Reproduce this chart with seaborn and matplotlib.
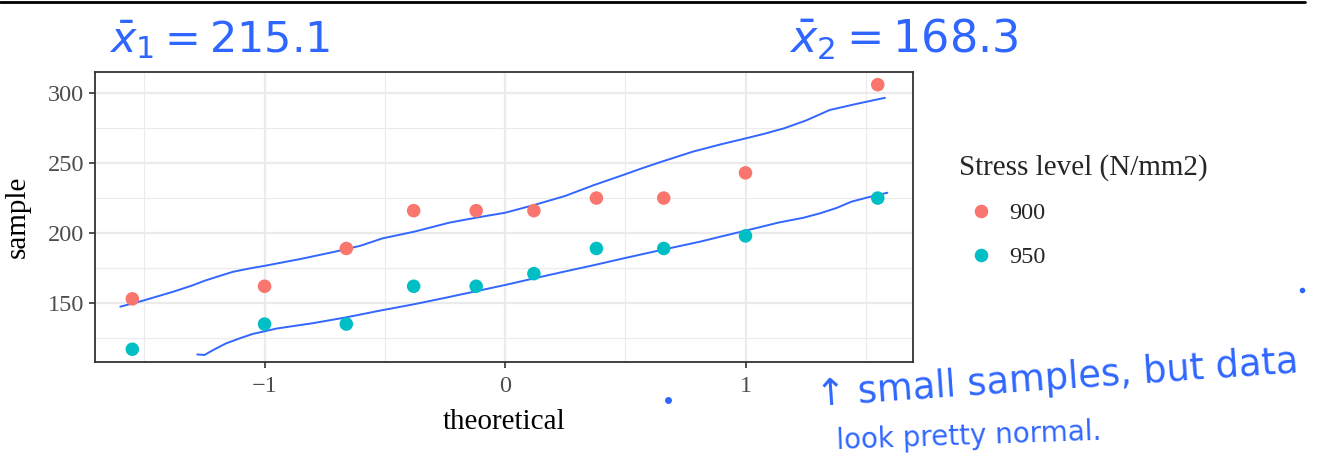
import numpy as np
import pandas as pd
import seaborn as sns
import matplotlib.pyplot as plt
from matplotlib.lines import Line2D
from matplotlib.ticker import MultipleLocator

# theoretical normal quantiles for n = 10
theoretical = [-1.55, -1.00, -0.66, -0.38, -0.12, 0.12, 0.38, 0.66, 1.00, 1.55]
sample_900 = [153, 162, 189, 216, 216, 216, 225, 225, 243, 306]
sample_950 = [117, 135, 135, 162, 162, 171, 189, 189, 198, 225]
levels = ["900", "950"]

# smoothed reference curves (traced)
curve_900_x = [-1.60, -1.50, -1.38, -1.30, -1.25, -1.19, -1.13, -1.06, -1.00, -0.85, -0.71,
               -0.60, -0.51, -0.38, -0.23, -0.10, 0.00, 0.12, 0.25, 0.37, 0.49, 0.57,
               0.65, 0.78, 0.90, 1.00, 1.08, 1.16, 1.25, 1.35, 1.47, 1.58]
curve_900_y = [147.4, 152.0, 158.1, 162.6, 165.9, 169.2, 172.4, 174.8, 176.6, 181.5, 186.6,
               191.0, 196.2, 200.9, 207.5, 211.6, 214.5, 220.0, 226.5, 234.3, 241.4, 246.3,
               250.9, 258.1, 263.5, 267.6, 271.0, 274.8, 280.3, 287.9, 292.6, 296.6]
curve_950_x = [-1.28, -1.25, -1.21, -1.16, -1.10, -1.05, -0.95, -0.80, -0.66, -0.52, -0.38,
               -0.25, -0.13, 0.00, 0.12, 0.25, 0.37, 0.51, 0.65, 0.81, 0.90, 1.00, 1.14,
               1.24, 1.31, 1.38, 1.44, 1.52, 1.59]
curve_950_y = [113.3, 112.9, 116.8, 121.2, 125.0, 127.9, 131.8, 135.6, 139.8, 144.6, 149.1,
               153.7, 158.1, 162.9, 167.6, 172.6, 177.1, 182.6, 187.9, 193.8, 197.6, 201.7,
               207.6, 210.9, 214.1, 218.0, 222.4, 226.0, 228.8]

points = pd.DataFrame({
    "theoretical": theoretical * 2,
    "sample": sample_900 + sample_950,
    "level": [levels[0]] * len(sample_900) + [levels[1]] * len(sample_950),
})
curves = pd.DataFrame({
    "x": curve_900_x + curve_950_x,
    "y": curve_900_y + curve_950_y,
    "grp": [levels[0]] * len(curve_900_x) + [levels[1]] * len(curve_950_x),
})

sns.set_style("white")
plt.rcParams["font.family"] = ["Liberation Serif", "DejaVu Serif"]

fig = plt.figure(figsize=(13.33, 4.68), dpi=100)
ax = fig.add_axes([0.0713, 0.2265, 0.6137, 0.6195])

pal = {"900": "#F8766D", "950": "#00BFC4"}
for g in levels:
    sns.lineplot(data=curves[curves.grp == g], x="x", y="y", color="#3366FF",
                 linewidth=1.4, sort=False, ax=ax, legend=False, zorder=3)
sns.scatterplot(data=points, x="theoretical", y="sample", hue="level", palette=pal,
                s=95, edgecolor="none", ax=ax, zorder=4)

ax.set_xlim(-1.705, 1.697)
ax.set_ylim(107.9, 315)
ax.xaxis.set_major_locator(MultipleLocator(1))
ax.xaxis.set_minor_locator(MultipleLocator(0.5))
ax.yaxis.set_major_locator(MultipleLocator(50))
ax.yaxis.set_minor_locator(MultipleLocator(25))
ax.grid(which="major", color="#EBEBEB", linewidth=1.6)
ax.grid(which="minor", color="#EBEBEB", linewidth=0.8)
ax.set_axisbelow(True)
ax.set_xticks([-1, 0, 1])
ax.set_xticklabels(["\u22121", "0", "1"])
ax.tick_params(which="major", length=4, width=1.2, color="#333333",
               labelsize=17.5, labelcolor="#4D4D4D", left=True, bottom=True)
ax.tick_params(axis="x", which="major", pad=6)
ax.tick_params(axis="y", which="major", pad=4)
ax.tick_params(which="minor", length=0)
for sp in ax.spines.values():
    sp.set_color("#333333")
    sp.set_linewidth(1.3)
ax.set_xlabel("theoretical", fontsize=21, color="black", labelpad=9)
ax.set_ylabel("sample", fontsize=21, color="black", labelpad=12)

leg = ax.legend(title="Stress level (N/mm2)", loc="upper left",
                bbox_to_anchor=(1.029, 0.794), frameon=False, fontsize=17.5,
                title_fontsize=21, markerscale=1.0, labelspacing=0.9,
                handlelength=1.8, handletextpad=0.3, alignment="left")

# handwritten-style annotations
ink = "#2F66FF"
fig.add_artist(Line2D([0, 1305 / 1333], [1 - 2 / 468, 1 - 2 / 468], color="black", linewidth=2))
fig.text(0.082, 0.915, r"$\bar{x}_1 = 215.1$", fontsize=31, color=ink,
         family="DejaVu Sans", va="center")
fig.text(0.592, 0.915, r"$\bar{x}_2 = 168.3$", fontsize=32, color=ink,
         family="DejaVu Sans", va="center")
fig.text(0.611, 0.19, "\u2191 small samples, but data", fontsize=26.5, color=ink,
         family="DejaVu Sans", rotation=4, va="center")
fig.text(0.627, 0.068, "look pretty normal.", fontsize=20, color=ink,
         family="DejaVu Sans", rotation=2, va="center")
fig.add_artist(Line2D([668 / 1333], [1 - 400 / 468], marker="o", ms=4, color=ink))
fig.add_artist(Line2D([1302 / 1333], [1 - 290 / 468], marker="o", ms=3, color=ink))

fig.savefig("out.png", dpi=100)
